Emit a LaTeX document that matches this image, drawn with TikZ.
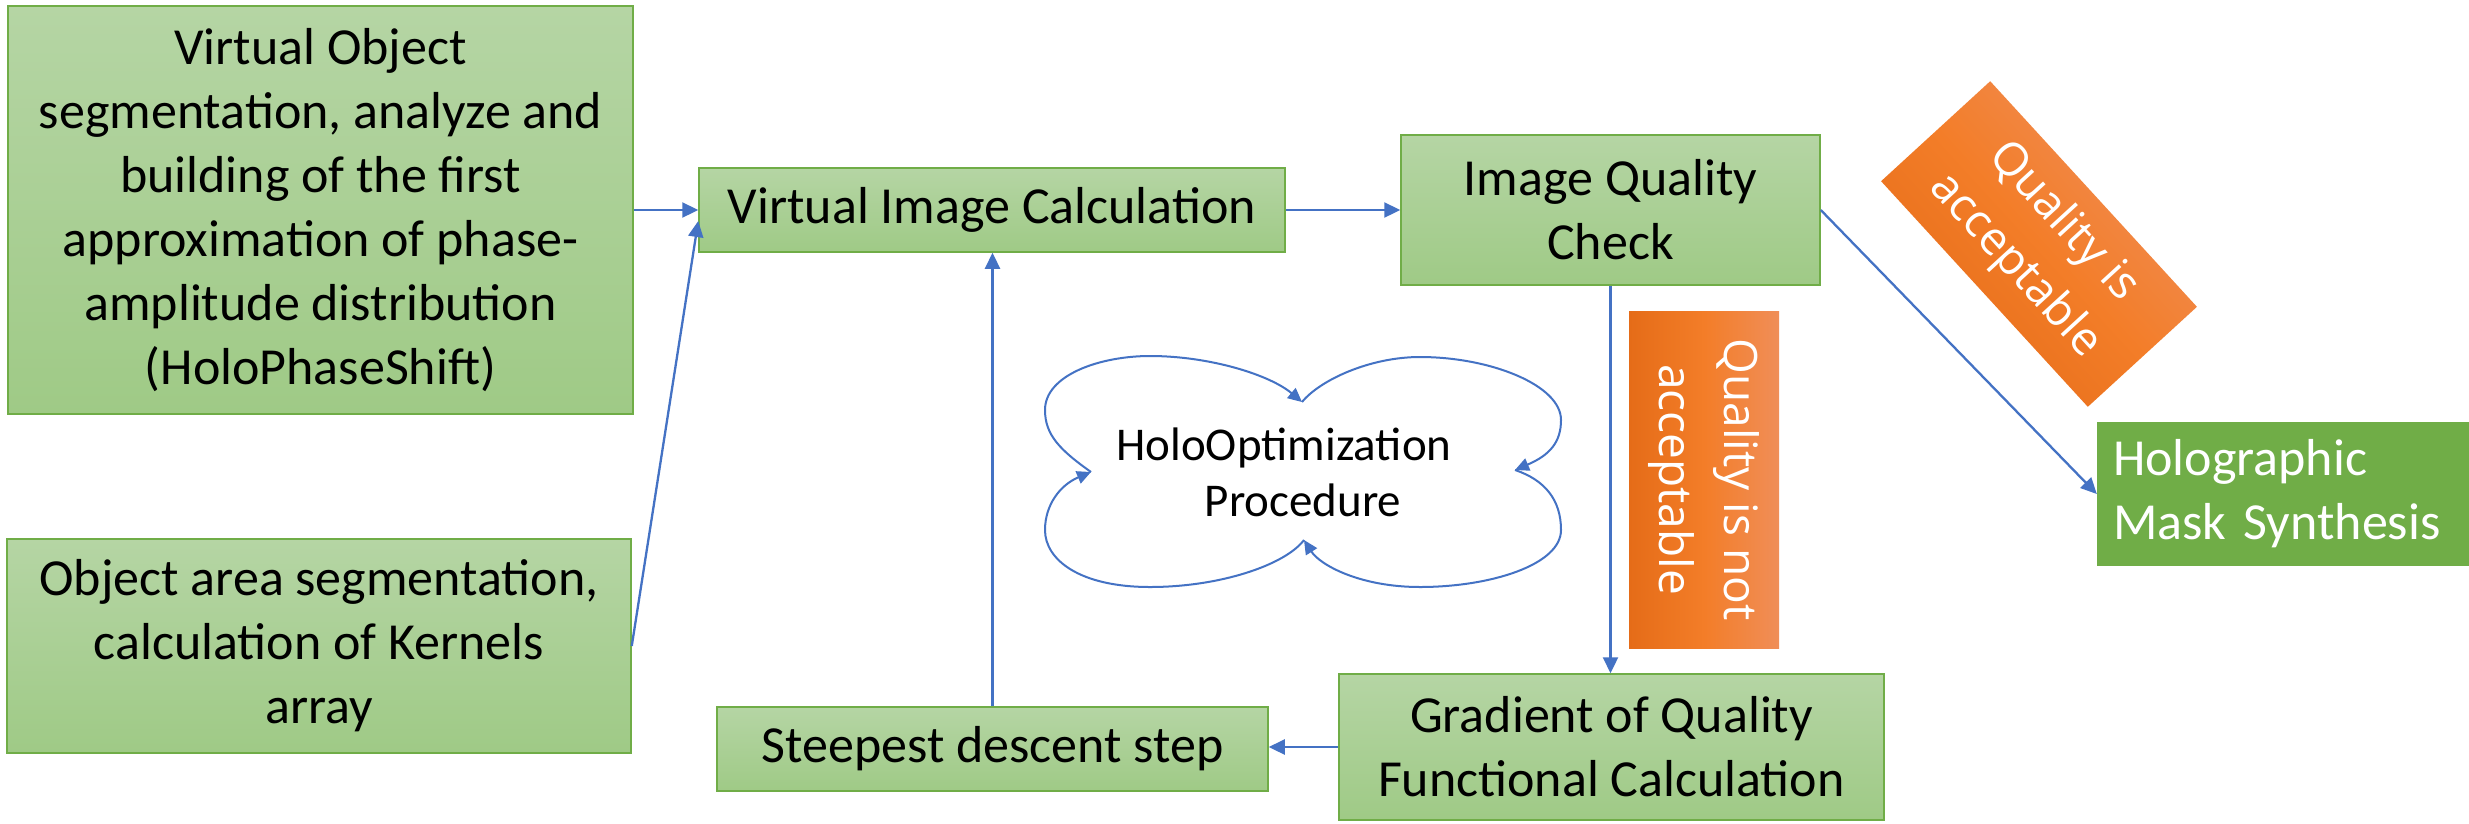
\documentclass[tikz,border=0pt]{standalone}
\usepackage{fontspec}
\setmainfont{Carlito}
\newfontfamily\osans{Open Sans}
\usetikzlibrary{arrows.meta}
\definecolor{gtop}{RGB}{181,213,164}
\definecolor{gbot}{RGB}{159,202,134}
\definecolor{gline}{RGB}{112,173,71}
\definecolor{odark}{RGB}{229,108,24}
\definecolor{omid}{RGB}{243,125,40}
\definecolor{olight}{RGB}{240,142,88}
\definecolor{connblue}{RGB}{68,114,196}
\begin{document}
\begin{tikzpicture}[x=1pt,y=-1pt,
  gbox/.style={draw=gline, line width=1.5pt, top color=gtop, bottom color=gbot,
    align=center, inner sep=0pt, font=\fontsize{52}{64}\selectfont},
  obox/.style={text=white, align=center, inner sep=0pt, font=\osans\fontsize{46}{65}\selectfont},
  conn/.style={draw=connblue, line width=2.3pt, -{Triangle[length=16pt,width=15pt]}},
  loopline/.style={draw=connblue, line width=2pt, -{Triangle[length=14pt,width=13pt]}}]
\fill[white] (0,0) rectangle (2469,823);
\useasboundingbox (0,0) rectangle (2469,823);

\node[gbox, minimum width=625pt, minimum height=408pt] (A) at (320.5,210)
  {Virtual Object\\segmentation, analyze and\\building of the first\\approximation of phase-\\amplitude distribution\\(HoloPhaseShift)};
\node[gbox, minimum width=624pt, minimum height=214pt] (F) at (319,646)
  {Object area segmentation,\\calculation of Kernels\\array};
\node[gbox, minimum width=586pt, minimum height=84pt] (B) at (992,210) {Virtual Image Calculation};
\node[gbox, minimum width=419pt, minimum height=150pt] (C) at (1610.5,210) {Image Quality\\Check};
\node[gbox, minimum width=545pt, minimum height=146pt] (D) at (1611.5,747) {Gradient of Quality\\Functional Calculation};
\node[gbox, minimum width=551pt, minimum height=84pt] (E) at (992.5,749) {Steepest descent step};
\node[fill=gline, text=white, minimum width=372pt, minimum height=144pt, text width=340pt,
  align=left, inner sep=0pt, font=\fontsize{52}{64}\selectfont] (H) at (2283,494) {Holographic\\Mask Synthesis};

\node[obox, rotate=-90, left color=odark, right color=olight, middle color=omid,
  minimum width=337pt, minimum height=150pt] (N) at (1704,479.5) {Quality is not\\acceptable};
\node[obox, rotate=-47.5, top color=olight, bottom color=odark, middle color=omid, shading angle=-47.5,
  minimum width=306pt, minimum height=148pt] (Y) at (2039,244) {Quality is\\acceptable};

\draw[conn] (A.east) -- (B.west);
\draw[conn] (F.east) -- ([yshift=-11pt]B.west);
\draw[conn] (B.east) -- (C.west);
\draw[conn] (C.east) -- (H.west);
\draw[conn] (C.south) -- (C.south |- D.north);
\draw[conn] (D.west) -- (D.west -| E.east);
\draw[conn] (E.north) -- (E.north |- B.south);

% cloud of the optimization loop
\coordinate (cT) at (1302,402);
\coordinate (cL) at (1091,472);
\coordinate (cR) at (1515,470);
\coordinate (cB) at (1304,540);
\draw[loopline] (cL) .. controls (1060,450) and (1045,435) .. (1045,410)
  .. controls (1045,375) and (1100,356) .. (1150,356)
  .. controls (1210,356) and (1270,375) .. (cT);
\draw[loopline] (cT) .. controls (1320,380) and (1370,357) .. (1420,357)
  .. controls (1490,357) and (1561,385) .. (1561,420)
  .. controls (1561,442) and (1550,455) .. (cR);
\draw[loopline] (cR) .. controls (1545,480) and (1561,500) .. (1561,530)
  .. controls (1561,565) and (1490,587) .. (1420,587)
  .. controls (1360,587) and (1320,565) .. (cB);
\draw[loopline] (cB) .. controls (1285,565) and (1220,587) .. (1150,587)
  .. controls (1080,587) and (1045,560) .. (1045,530)
  .. controls (1045,505) and (1060,485) .. (cL);
\node[font=\fontsize{47}{56}\selectfont, align=center, inner sep=0pt] (P) at (1284,472)
  {HoloOptimization\\\hspace*{38pt}Procedure};
\end{tikzpicture}
\end{document}
